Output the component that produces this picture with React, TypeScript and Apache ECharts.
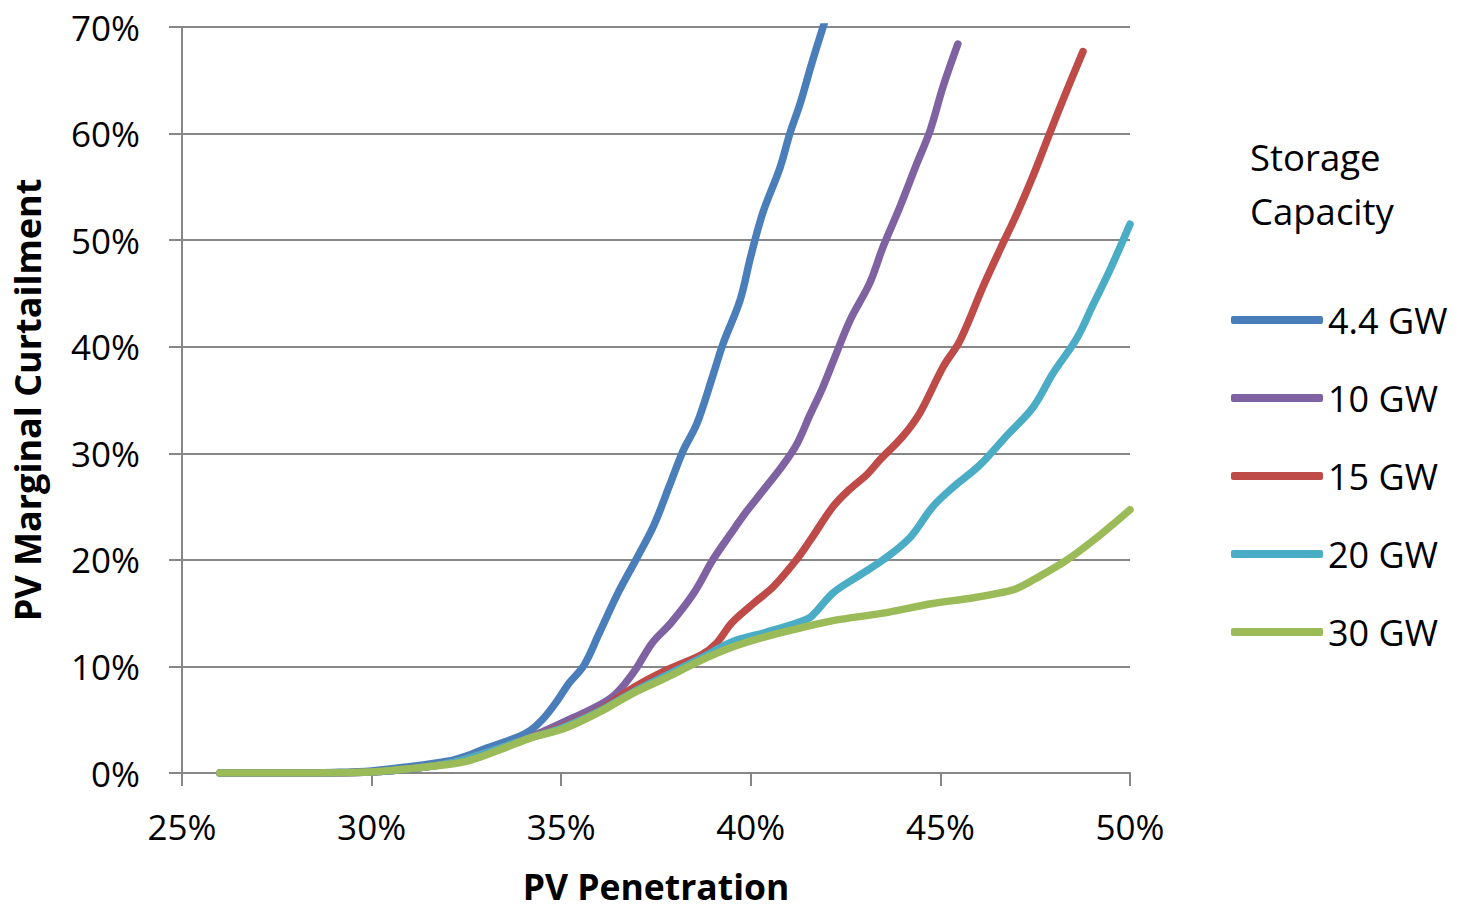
import React, { useEffect, useRef } from "react";
import * as echarts from "echarts";

const xTicks = [25, 30, 35, 40, 45, 50];
const yTicks = [0, 10, 20, 30, 40, 50, 60, 70];
const seriesNames = ["4.4 GW", "10 GW", "15 GW", "20 GW", "30 GW"];
const seriesColors = ["#4A7EBB", "#7F62A1", "#BE4B48", "#4BACC6", "#9BBB59"];

const gw4_4 = [
  [26, 0], [27, 0], [28, 0], [29, 0.05], [30, 0.2], [31, 0.6], [32, 1.1], [32.5, 1.6], [33, 2.3],
  [33.5, 2.9], [34.1, 3.8], [34.5, 5.0], [34.9, 6.8], [35.2, 8.4], [35.6, 10.1], [36.0, 13.1],
  [36.5, 16.9], [37.0, 20.2], [37.45, 23.3], [37.87, 27.1], [38.21, 30.2], [38.58, 32.8],
  [39.0, 37.3], [39.27, 40.3], [39.72, 44.4], [40.0, 48.5], [40.32, 52.6], [40.77, 56.8],
  [41.03, 60.0], [41.3, 62.8], [41.6, 66.5], [41.95, 70.5],
];
const gw10 = [
  [26, 0], [28, 0], [30, 0.1], [31, 0.4], [32, 0.9], [33, 1.9], [34, 3.1], [35.2, 5.0], [36.3, 7.0],
  [36.9, 9.4], [37.4, 12.2], [37.9, 14.1], [38.5, 16.9], [39.0, 20.0], [39.5, 22.6], [39.9, 24.6],
  [40.3, 26.4], [40.85, 28.9], [41.22, 30.9], [41.56, 33.6], [41.9, 36.2], [42.27, 39.5],
  [42.62, 42.5], [43.14, 46.0], [43.49, 49.4], [43.93, 53.1], [44.38, 57.2], [44.73, 60.3],
  [45.07, 64.4], [45.46, 68.4],
];
const gw15 = [
  [26, 0], [28, 0], [30, 0.1], [31, 0.4], [32, 0.9], [33, 1.9], [34, 3.1], [35, 4.3], [36, 5.9],
  [36.9, 8.0], [37.8, 9.7], [38.7, 11.1], [39.1, 12.2], [39.5, 14.1], [40.1, 16.0], [40.6, 17.5],
  [41.2, 20.0], [41.56, 21.8], [42.17, 25.0], [42.6, 26.6], [43.06, 28.0], [43.41, 29.4],
  [44.01, 31.6], [44.46, 33.8], [45.07, 38.1], [45.52, 40.6], [46.12, 45.6], [46.57, 49.1],
  [47.02, 52.5], [47.44, 56.0], [47.89, 60.1], [48.34, 64.1], [48.76, 67.7],
];
const gw20 = [
  [26, 0], [28, 0], [30, 0.1], [31, 0.4], [32, 0.9], [33, 1.9], [34, 3.1], [35, 4.2], [36, 5.8],
  [36.9, 7.6], [37.8, 9.2], [38.7, 10.8], [39.5, 12.3], [40.4, 13.2], [41.3, 14.2], [41.6, 14.7],
  [42.17, 16.9], [42.8, 18.4], [43.49, 20.0], [44.2, 22.1], [44.8, 25.0], [45.33, 26.8],
  [46.04, 28.9], [46.76, 31.7], [47.44, 34.3], [47.97, 37.5], [48.6, 40.8], [49.02, 43.9],
  [49.47, 47.2], [50.0, 51.5],
];
const gw30 = [
  [26, 0], [28, 0], [30, 0.1], [30.7, 0.3], [31.5, 0.6], [32.5, 1.1], [33.4, 2.2], [34.2, 3.3],
  [35.1, 4.2], [36.0, 5.7], [36.9, 7.5], [37.8, 9.0], [38.7, 10.6], [39.5, 11.8], [40.4, 12.8],
  [41.3, 13.6], [42.17, 14.3], [43.49, 15.0], [44.8, 15.9], [45.8, 16.4], [46.57, 16.9],
  [47.0, 17.3], [47.44, 18.1], [48.34, 20.0], [49.2, 22.3], [50, 24.7],
];
const seriesData = [gw4_4, gw10, gw15, gw20, gw30];

const FONT = "'Open Sans', sans-serif";
const GRAY = "#878787";

export default function App() {
  const ref = useRef<HTMLDivElement>(null);
  useEffect(() => {
    if (!ref.current) return;
    const chart = echarts.init(ref.current, null, { renderer: "svg" });
    chart.setOption({
      animation: false,
      backgroundColor: "#ffffff",
      textStyle: { fontFamily: FONT },
      title: {
        text: "Storage\nCapacity",
        left: 1250,
        top: 130,
        padding: 0,
        textStyle: { fontFamily: FONT, fontSize: 36.5, fontWeight: "normal", color: "#000", lineHeight: 54 },
      },
      legend: {
        orient: "vertical",
        left: 1231,
        top: 300,
        padding: 0,
        itemWidth: 92,
        itemHeight: 8,
        itemGap: 38,
        icon: "roundRect",
        data: seriesNames,
        textStyle: { fontFamily: FONT, fontSize: 36, color: "#000", lineHeight: 40, padding: [0, 0, 0, 0] },
      },
      grid: { left: 182, right: 330, top: 27, bottom: 138, outerBoundsMode: "none", containLabel: false },
      xAxis: {
        type: "value",
        min: xTicks[0],
        max: xTicks[xTicks.length - 1],
        interval: 5,
        name: "PV Penetration",
        nameLocation: "middle",
        nameGap: 96,
        nameTextStyle: { fontFamily: FONT, fontSize: 35.5, fontWeight: "bold", color: "#000", lineHeight: 34 },
        axisLine: { show: true, lineStyle: { color: GRAY, width: 2 } },
        axisTick: { show: true, length: 13, lineStyle: { color: GRAY, width: 2 } },
        splitLine: { show: false },
        axisLabel: { formatter: "{value}%", fontFamily: FONT, fontSize: 35, color: "#000", margin: 36 },
      },
      yAxis: {
        type: "value",
        min: yTicks[0],
        max: yTicks[yTicks.length - 1],
        interval: 10,
        name: "PV Marginal Curtailment",
        nameLocation: "middle",
        nameGap: 137,
        nameRotate: 90,
        nameTextStyle: { fontFamily: FONT, fontSize: 36, fontWeight: "bold", color: "#000" },
        axisLine: { show: true, lineStyle: { color: GRAY, width: 2 } },
        axisTick: { show: true, length: 13, lineStyle: { color: GRAY, width: 2 } },
        splitLine: { show: true, lineStyle: { color: GRAY, width: 2 } },
        axisLabel: { formatter: "{value}%", fontFamily: FONT, fontSize: 35, color: "#000", margin: 42 },
      },
      series: seriesNames.map((name, i) => ({
        name,
        type: "line",
        data: seriesData[i],
        smooth: 0.35,
        showSymbol: false,
        symbol: "none",
        clip: true,
        color: seriesColors[i],
        lineStyle: { color: seriesColors[i], width: 7.5, cap: "round", join: "round" },
      })),
    });
    return () => chart.dispose();
  }, []);
  return (
    <div
      ref={ref}
      style={{ position: "fixed", left: 0, top: 0, width: 1460, height: 911, background: "#fff" }}
    />
  );
}
